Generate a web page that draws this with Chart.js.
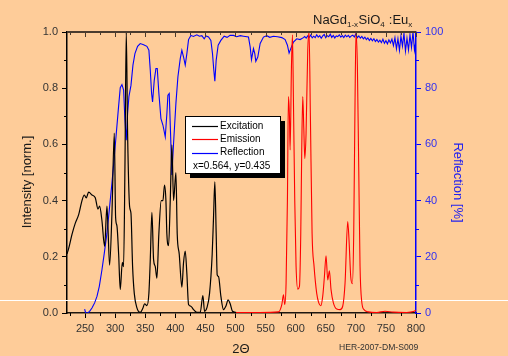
<!DOCTYPE html>
<html>
<head>
<meta charset="utf-8">
<script src="https://cdn.jsdelivr.net/npm/chart.js@4.4.1/dist/chart.umd.min.js"></script>
<style>
  html, body { margin: 0; padding: 0; background: #fecc99; }
  #c { display: block; }
</style>
</head>
<body>
<canvas id="c" width="508" height="356"></canvas>
<script>
'use strict';

// --- data ---
const xTicks = [250, 300, 350, 400, 450, 500, 550, 600, 650, 700, 750, 800];
const yTicks = [0, 0.2, 0.4, 0.6, 0.8, 1.0];
const y1Ticks = [0, 20, 40, 60, 80, 100];

const excitationX = [220, 222.8, 228.3, 233.8, 239.4, 244.9, 248.8, 252, 256, 261.5,
  267, 271.5, 274.2, 278, 282.5, 286.4, 288, 290.8, 294.7, 298.6,
  300.8, 303, 305.8, 308.5, 311.9, 314, 316.3, 318.5, 320.7, 324,
  326.3, 329, 331.8, 336.2, 341.7, 346.2, 348.9, 352.8, 356.1, 358.4,
  361.1, 363.9, 366.7, 369.4, 372.7, 376.6, 379.4, 382.1, 384.4, 386,
  388.8, 391.6, 394.3, 397.1, 401, 403.2, 406.5, 410.9, 413.7, 416.5,
  419.2, 422, 425.9, 430.3, 435.8, 441.4, 445.8, 448.6, 452.4, 456.9,
  461.3, 463.5, 465.7, 467.9, 469.6, 471.8, 475.7, 480.1, 484, 487.8,
  491.2, 495, 501];
const excitationY = [0.21, 0.23, 0.28, 0.32, 0.35, 0.40, 0.42, 0.41, 0.43, 0.42,
  0.41, 0.37, 0.38, 0.33, 0.237, 0.38, 0.31, 0.17, 0.355, 0.64,
  0.34, 0.31, 0.21, 0.083, 0.18, 0.165, 0.52, 1.0, 0.64, 0.38,
  0.355, 0.166, 0.07, 0.018, 0.002, 0.018, 0.033, 0.026, 0.07, 0.19,
  0.358, 0.19, 0.165, 0.124, 0.284, 0.40, 0.40, 0.455, 0.40, 0.28,
  0.24, 0.40, 0.598, 0.40, 0.50, 0.28, 0.21, 0.092, 0.18, 0.22,
  0.14, 0.03, 0.024, 0.012, 0.002, 0.002, 0.062, 0.006, 0.018, 0.07,
  0.21, 0.34, 0.467, 0.284, 0.136, 0.13, 0.06, 0.012, 0.024, 0.047,
  0.033, 0.006, 0.002];

const emissionX = [501, 540, 571.4, 577, 579.7, 581.9, 584.1, 586.3, 588, 589.7,
  590.8, 593, 594.7, 596.3, 598.5, 600.7, 603.5, 606.3, 608.5, 610.1,
  611.8, 613.5, 615.2, 617.3, 620.1, 622.3, 624.5, 627.3, 630.6, 635,
  638.4, 641.7, 645, 647.8, 650.5, 653.3, 656.1, 658.8, 662.7, 668.3,
  673.8, 678.2, 682.1, 686.5, 688.7, 691.5, 694.3, 696.5, 698.7, 700.3,
  702.6, 704.8, 707, 709.8, 713.6, 720.8, 734.7, 748.5, 762.3, 784.5,
  795.6, 800];
const emissionY = [0.002, 0.002, 0.004, 0.03, 0.065, 0.03, 0.107, 0.40, 0.77, 0.70,
  0.58, 0.876, 0.99, 0.757, 0.40, 0.166, 0.085, 0.095, 0.284, 0.58,
  0.77, 0.66, 0.55, 0.64, 0.935, 1.0, 0.70, 0.284, 0.166, 0.07,
  0.036, 0.026, 0.06, 0.13, 0.204, 0.118, 0.15, 0.083, 0.036, 0.014,
  0.012, 0.024, 0.107, 0.325, 0.26, 0.13, 0.104, 0.284, 0.757, 1.0,
  0.876, 0.52, 0.166, 0.041, 0.012, 0.004, 0.002, 0.006, 0.003, 0.002,
  0.005, 0.01];

const reflectionX = [249.3, 251, 254.3, 257.6, 261.5, 265.9, 269.8, 273.7, 278.1, 282,
  286.4, 290.3, 294.7, 298.6, 301.9, 305.2, 308.5, 311.3, 314.1, 316.3,
  318.5, 320.7, 322.9, 326.3, 329.6, 332.9, 337.3, 341.7, 347.3, 352.8,
  356.1, 358.4, 360.6, 362.2, 365, 367.8, 370, 372.7, 376.1, 379.4,
  383.3, 386, 387.7, 389.9, 392.1, 394.3, 397.1, 401, 404.3, 408.2,
  410.9, 413.7, 416.5, 419.2, 422, 425.9, 430, 435.8, 440, 444.1, 448, 451, 455.2,
  459.1, 461.8, 464, 465.7, 467.9, 471.2, 475.7, 481.2, 486, 491, 496.7, 502, 508, 513.3,
  521.6, 524.4, 526.6, 529.9, 532.1, 533.8, 537.1, 541, 546.5, 552, 557, 563.1, 570,
  577, 582.5, 586.3, 589.1, 591.9, 596.3, 601.8, 607.4, 612.9,
  615, 617.5, 620, 622.5, 625, 627.5, 630, 632.5, 635, 637.5,
  640, 642.5, 645, 647.5, 650, 652.5, 655, 657.5, 660, 662.5,
  665, 667.5, 670, 672.5, 675, 677.5, 680, 682.5, 685, 687.5,
  690, 692.5, 695, 697.5, 700, 702.5, 705, 707.5, 710, 712.5,
  715, 717.5, 720, 722.5, 725, 727.5, 730, 732.5, 735, 737.5,
  740, 742.5, 745, 747.5, 750, 752.5, 755, 757.5, 760, 762.5,
  765, 767.5, 770, 772.5, 775, 777.5, 780, 782.5, 785, 787.5,
  790, 792.5, 795, 797.5, 800];
const reflectionY = [1.4, 0, 0, 0.6, 1.8, 3.6, 5.9, 9.5, 15.4, 21.3,
  28.4, 36.7, 46.2, 55.6, 63.9, 72.2, 80.2, 81.3, 79.3, 68.6,
  61.5, 71, 77, 81, 88.2, 92.3, 94.9, 95.9, 95.5, 94.9,
  93.5, 86.4, 78.1, 75.1, 82.8, 87, 87, 78.1, 69.2, 66.9,
  62.7, 71, 77.5, 78.1, 63.9, 49.1, 60.4, 74.6, 84, 90.5,
  93.5, 91.1, 88.2, 92.3, 97.3, 98.8, 98.4, 99, 98.5, 98.7, 97.6, 98.6, 98.2,
  97, 92.3, 86.4, 82.5, 89.9, 95.3, 97, 98.5, 98.1, 98.8, 98.8, 98.3, 98.7, 98.5,
  98.2, 94.7, 90.2, 94.1, 92.3, 89.6, 91.1, 95.9, 98.2, 98.7, 98.1, 98.5, 98.3,
  98, 97.3, 95.3, 92.5, 94.1, 96.4, 97.6, 97.3, 98,
  98.4, 97.8, 98.6, 98.1, 98.9, 97.9, 98.5, 98.0, 99.0, 98.2,
  98.7, 97.8, 98.6, 99.1, 98.0, 98.7, 98.3, 99.2, 98.1, 98.8,
  97.9, 98.6, 98.4, 99.0, 98.2, 98.7, 98.0, 98.9, 98.3, 98.8,
  98.1, 98.6, 98.9, 98.2, 99.3, 98.0, 98.6, 97.8, 98.4, 97.6,
  98.2, 97.3, 97.9, 97.0, 97.7, 96.9, 97.6, 96.6, 97.3, 96.4,
  97.1, 96.2, 97.4, 96.0, 96.9, 95.8, 97.2, 96.1, 97.5, 95.2,
  98.0, 94.0, 97.6, 93.5, 98.5, 95.0, 99.5, 93.2, 97.8, 93.6,
  99.0, 94.5, 100, 93.5, 97.0];

const seriesNames = ['Excitation', 'Emission', 'Reflection'];
const seriesColors = ['#000000', '#ff0000', '#0000ff'];
const coordText = 'x=0.564, y=0.435';
const stampText = 'HER-2007-DM-S009';

// --- helpers ---
const FONT = '"Liberation Sans", Arial, sans-serif';
const toPoints = (xs, ys) => xs.map((x, i) => ({ x, y: ys[i] }));
const fixedTicks = list => scale => { scale.ticks = list.map(v => ({ value: v })); };

// extra drawing: top frame, minor ticks, titles, legend box
const decorations = {
  id: 'decorations',
  beforeDatasetsDraw(chart) {
    const { ctx } = chart;
    ctx.save();
    ctx.strokeStyle = '#ffffff';
    ctx.lineWidth = 1;
    ctx.beginPath();
    ctx.moveTo(0, 300.5);
    ctx.lineTo(chart.width, 300.5);
    ctx.stroke();
    ctx.restore();
  },
  afterDraw(chart) {
    const { ctx, chartArea: a } = chart;
    const sx = chart.scales.x, sy = chart.scales.y, sy1 = chart.scales.y1;
    ctx.save();

    // top frame line with inward ticks
    ctx.strokeStyle = '#4a3b2e';
    ctx.lineWidth = 2;
    ctx.beginPath();
    ctx.moveTo(a.left, a.top);
    ctx.lineTo(a.right, a.top);
    ctx.stroke();
    ctx.lineWidth = 1;
    ctx.beginPath();
    for (let v = 225; v <= 800; v += 25) {
      const px = Math.round(sx.getPixelForValue(v)) + 0.5;
      const len = v % 50 === 0 ? 5 : 3;
      ctx.moveTo(px, a.top);
      ctx.lineTo(px, a.top + len);
    }
    ctx.stroke();

    // bottom minor ticks
    ctx.strokeStyle = '#000';
    ctx.beginPath();
    for (let v = 225; v <= 800; v += 50) {
      const px = Math.round(sx.getPixelForValue(v)) + 0.5;
      ctx.moveTo(px, a.bottom);
      ctx.lineTo(px, a.bottom + 3);
    }
    // left minor ticks
    for (let v = 0.1; v < 1; v += 0.2) {
      const py = Math.round(sy.getPixelForValue(v)) + 0.5;
      ctx.moveTo(a.left, py);
      ctx.lineTo(a.left - 3, py);
    }
    ctx.stroke();
    // right minor ticks
    ctx.strokeStyle = '#0000ff';
    ctx.beginPath();
    for (let v = 10; v < 100; v += 20) {
      const py = Math.round(sy1.getPixelForValue(v)) + 0.5;
      ctx.moveTo(a.right, py);
      ctx.lineTo(a.right + 3, py);
    }
    ctx.stroke();

    // title with subscripts
    ctx.fillStyle = '#1a1a1a';
    ctx.textBaseline = 'alphabetic';
    ctx.textAlign = 'left';
    const parts = [['NaGd', 13, 0], ['1-x', 8, 3.5], ['SiO', 13, 0], ['4', 8, 3.5], [' :Eu', 13, 0], ['x', 8, 3.5]];
    let tx = 313;
    parts.forEach(([s, size, dy]) => {
      ctx.font = size + 'px ' + FONT;
      ctx.fillText(s, tx, 23.5 + dy);
      tx += ctx.measureText(s).width + (size < 13 ? 0.5 : 0);
    });

    // axis titles
    ctx.textAlign = 'center';
    ctx.textBaseline = 'middle';
    ctx.font = '13px ' + FONT;
    ctx.fillStyle = '#1a1a1a';
    ctx.save();
    ctx.translate(27.5, 182);
    ctx.rotate(-Math.PI / 2);
    ctx.fillText('Intensity [norm.]', 0, 0);
    ctx.restore();

    ctx.fillStyle = '#2020f0';
    ctx.save();
    ctx.translate(457.5, 182.5);
    ctx.rotate(Math.PI / 2);
    ctx.fillText('Reflection [%]', 0, 0);
    ctx.restore();

    ctx.fillStyle = '#1a1a1a';
    ctx.fillText('2\u0398', 241, 349);

    ctx.textAlign = 'left';
    ctx.font = '8.6px ' + FONT;
    ctx.fillStyle = '#333';
    ctx.fillText(stampText, 339, 348);

    // legend box with shadow
    ctx.fillStyle = '#000';
    ctx.fillRect(190, 121, 95, 57);
    ctx.fillStyle = '#fff';
    ctx.fillRect(185, 116, 96, 58);
    ctx.strokeStyle = '#000';
    ctx.lineWidth = 1;
    ctx.strokeRect(185.5, 116.5, 95, 57);

    ctx.font = '10px ' + FONT;
    seriesNames.forEach((name, i) => {
      const y = 126 + i * 13.3;
      ctx.strokeStyle = seriesColors[i];
      ctx.lineWidth = 1.2;
      ctx.beginPath();
      ctx.moveTo(192, Math.round(y) + 0.5);
      ctx.lineTo(218, Math.round(y) + 0.5);
      ctx.stroke();
      ctx.fillStyle = '#000';
      ctx.fillText(name, 220, y);
    });
    ctx.fillText(coordText, 193, 126 + 3 * 13.3);

    ctx.restore();
  }
};

const tickFont = { family: FONT, size: 11 };

new Chart(document.getElementById('c'), {
  type: 'line',
  data: {
    datasets: [
      {
        label: seriesNames[0],
        data: toPoints(excitationX, excitationY),
        borderColor: seriesColors[0],
        borderWidth: 1.2,
        yAxisID: 'y',
        cubicInterpolationMode: 'monotone'
      },
      {
        label: seriesNames[1],
        data: toPoints(emissionX, emissionY),
        borderColor: seriesColors[1],
        borderWidth: 1.1,
        yAxisID: 'y',
        cubicInterpolationMode: 'monotone'
      },
      {
        label: seriesNames[2],
        data: toPoints(reflectionX, reflectionY),
        borderColor: seriesColors[2],
        borderWidth: 1.1,
        yAxisID: 'y1',
        tension: 0
      }
    ]
  },
  options: {
    responsive: false,
    animation: false,
    layout: { padding: { top: 32, left: 0, right: 0, bottom: 0 } },
    elements: { point: { radius: 0 } },
    plugins: {
      legend: { display: false },
      tooltip: { enabled: false }
    },
    scales: {
      x: {
        type: 'linear',
        min: 220,
        max: 800,
        afterBuildTicks: fixedTicks(xTicks),
        afterFit: s => { s.height = 43; },
        ticks: { font: tickFont, color: '#333', padding: 4, maxRotation: 0, autoSkip: false },
        grid: { drawOnChartArea: false, tickLength: 5, color: '#000' },
        border: { color: '#1e1710', width: 1.5 }
      },
      y: {
        position: 'left',
        min: 0,
        max: 1,
        afterBuildTicks: fixedTicks(yTicks),
        afterFit: s => { s.width = 67; },
        ticks: { font: tickFont, color: '#333', padding: 4, callback: v => v.toFixed(1) },
        grid: { drawOnChartArea: false, tickLength: 5, color: '#000' },
        border: { color: '#000', width: 1.5 }
      },
      y1: {
        position: 'right',
        min: 0,
        max: 100,
        afterBuildTicks: fixedTicks(y1Ticks),
        afterFit: s => { s.width = 92; },
        ticks: { font: tickFont, color: '#3030f0', padding: 4 },
        grid: { drawOnChartArea: false, tickLength: 5, color: '#0000ff' },
        border: { color: '#0000ff', width: 1.5 }
      }
    }
  },
  plugins: [decorations]
});
</script>
</body>
</html>
